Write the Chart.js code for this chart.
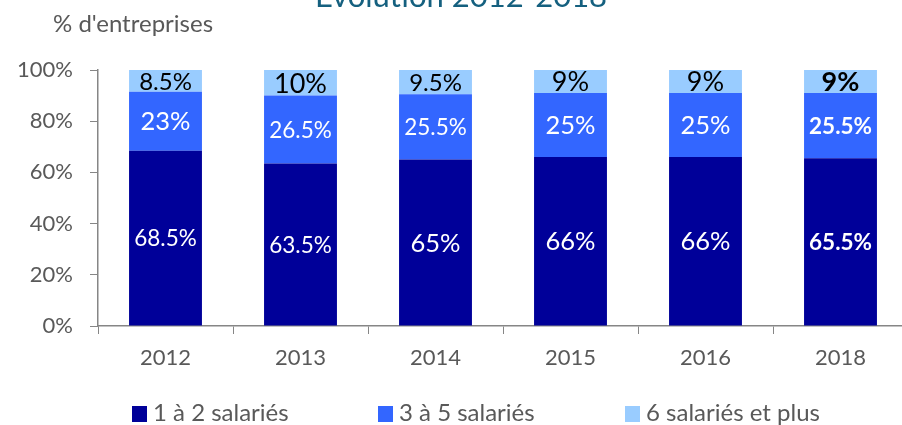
<!DOCTYPE html>
<html>
<head>
<meta charset="utf-8">
<script src="https://cdn.jsdelivr.net/npm/chart.js@4"></script>
<style>
  html, body { margin: 0; padding: 0; background: #fff; overflow: hidden; }
  #wrap { position: relative; width: 902px; height: 425px; overflow: hidden; }
  #legend { position: absolute; top: 398px; left: 0; font-family: Lato, sans-serif; font-size: 24px; color: #595959; }
  #legend span.item { position: absolute; white-space: nowrap; line-height: 28px; }
  #legend i { display: inline-block; width: 15px; height: 16px; margin-right: 6px; vertical-align: -1px; }
</style>
</head>
<body>
<div id="wrap">
  <canvas id="mycanvas" width="912" height="425" style="width:912px;height:425px"></canvas>
  <div id="legend"></div>
</div>
<script>
var years = ['2012', '2013', '2014', '2015', '2016', '2018'];
var small = [68.5, 63.5, 65, 66, 66, 65.5];
var medium = [23, 26.5, 25.5, 25, 25, 25.5];
var large = [8.5, 10, 9.5, 9, 9, 9];
var seriesNames = ['1 à 2 salariés', '3 à 5 salariés', '6 salariés et plus'];
var yTicks = [0, 20, 40, 60, 80, 100];

var colors = ['#000099', '#3366FF', '#99CCFF'];
var labelColors = ['#ffffff', '#ffffff', '#000000'];
var legendX = [132, 378, 625];

var segLabels = {
	id: 'segLabels',
	afterDatasetsDraw: function(chart) {
		var ctx = chart.ctx;
		ctx.save();
		ctx.textAlign = 'center';
		ctx.textBaseline = 'middle';
		chart.data.datasets.forEach(function(ds, di) {
			var meta = chart.getDatasetMeta(di);
			meta.data.forEach(function(bar, i) {
				var v = ds.data[i];
				var txt = String(v) + '%';
				var dec = String(v).indexOf('.') >= 0;
				var size = dec ? 22.5 : 25.5;
				if (di === 2) size = dec ? 24 : 27;
				var bold = years[i] === '2018' ? 'bold ' : '';
				ctx.font = bold + size + 'px Lato, sans-serif';
				ctx.fillStyle = labelColors[di];
				ctx.fillText(txt, bar.x, (bar.y + bar.base) / 2 + 1);
			});
		});
		ctx.restore();
	}
};

var extraText = {
	id: 'extraText',
	afterDraw: function(chart) {
		var ctx = chart.ctx;
		ctx.save();
		ctx.font = '31px Lato, sans-serif';
		ctx.fillStyle = '#15607F';
		ctx.textAlign = 'center';
		ctx.textBaseline = 'alphabetic';
		ctx.fillText('Evolution 2012-2018', 461, 7);
		ctx.font = '24px Lato, sans-serif';
		ctx.fillStyle = '#595959';
		ctx.textAlign = 'left';
		ctx.textBaseline = 'middle';
		ctx.fillText("% d'entreprises", 53, 24);
		ctx.restore();
	}
};

var chartdata = {
	labels: years,
	datasets: [small, medium, large].map(function(d, k) {
		return {
			label: seriesNames[k],
			data: d,
			backgroundColor: colors[k],
			borderWidth: 0,
			categoryPercentage: 1,
			barPercentage: 0.54
		};
	})
};

var ctx = document.getElementById('mycanvas');
var barGraph = new Chart(ctx, {
	type: 'bar',
	data: chartdata,
	options: {
		responsive: false,
		animation: false,
		layout: { padding: { top: 70, right: 4, left: 0, bottom: 0 } },
		plugins: { legend: { display: false }, tooltip: { enabled: false } },
		scales: {
			x: {
				stacked: true,
				afterFit: function(s) { s.height = 99; },
				grid: { offset: true, drawOnChartArea: false, tickLength: 8, color: '#868686' },
				border: { color: '#868686', width: 1.5 },
				ticks: { font: { family: 'Lato', size: 22 }, color: '#595959', padding: 11 }
			},
			y: {
				stacked: true,
				min: 0,
				max: 100,
				afterFit: function(s) { s.width = 98; },
				afterBuildTicks: function(s) { s.ticks = yTicks.map(function(v) { return { value: v }; }); },
				grid: { drawOnChartArea: false, tickLength: 8, color: '#868686' },
				border: { color: '#868686', width: 1.5 },
				ticks: { font: { family: 'Lato', size: 22 }, color: '#595959', padding: 17,
					callback: function(v) { return v + '%'; } }
			}
		}
	},
	plugins: [segLabels, extraText]
});

var legend = document.getElementById('legend');
seriesNames.forEach(function(name, k) {
	var item = document.createElement('span');
	item.className = 'item';
	item.style.left = legendX[k] + 'px';
	item.innerHTML = '<i style="background:' + colors[k] + '"></i>' + name;
	legend.appendChild(item);
});
</script>
</body>
</html>
